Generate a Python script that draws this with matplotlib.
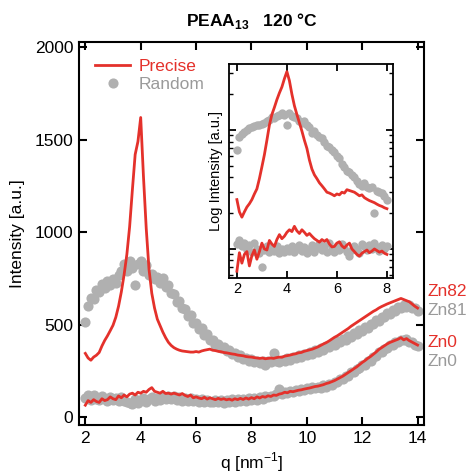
import numpy as np
import matplotlib
matplotlib.use('Agg')
import matplotlib.pyplot as plt

plt.rcParams['font.family'] = ['Liberation Sans', 'DejaVu Sans']
plt.rcParams['mathtext.fontset'] = 'custom'
plt.rcParams['mathtext.rm'] = 'Liberation Sans'
plt.rcParams['mathtext.bf'] = 'Liberation Sans:bold'

# main panel: q from 2 to 14 in steps of 0.1
q = np.round(np.arange(2.0, 14.05, 0.1), 1)

precise_zn82 = [345, 320, 308, 325, 335, 350, 385, 415, 440, 468,
                497, 540, 600, 677, 770, 880, 1030, 1230, 1420, 1490,
                1620, 1300, 1020, 800, 670, 590, 530, 495, 460, 430,
                405, 388, 376, 368, 362, 358, 356, 354, 352, 352,
                355, 352, 358, 362, 365, 368, 362, 360, 356, 354,
                350, 348, 345, 342, 340, 336, 334, 332, 328, 326,
                325, 322, 320, 318, 320, 316, 318, 320, 318, 322,
                325, 324, 330, 333, 336, 340, 343, 348, 350, 356,
                360, 364, 368, 374, 380, 388, 396, 403, 412, 422,
                432, 440, 450, 460, 470, 480, 492, 502, 512, 522,
                532, 542, 552, 562, 572, 580, 590, 598, 605, 612,
                618, 624, 630, 636, 642, 636, 630, 624, 612, 600,
                590]

random_zn81 = [515, 600, 645, 640, 690, 675, 720, 700, 735, 715,
               745, 725, 770, 790, 830, 790, 845, 805, 713, 830,
               845, 790, 825, 770, 775, 745, 760, 725, 750, 705,
               715, 670, 665, 625, 630, 590, 585, 545, 550, 510,
               510, 475, 480, 445, 450, 415, 420, 392, 398, 372,
               380, 358, 362, 342, 346, 328, 334, 316, 322, 306,
               314, 298, 306, 294, 302, 280, 304, 298, 345, 305,
               296, 310, 302, 318, 310, 326, 318, 334, 326, 342,
               334, 350, 344, 362, 354, 372, 366, 384, 378, 398,
               392, 410, 404, 424, 418, 438, 434, 454, 450, 470,
               466, 486, 484, 504, 502, 524, 522, 544, 542, 562,
               558, 578, 574, 594, 590, 606, 598, 606, 590, 592,
               575]

precise_zn0 = [65, 90, 80, 95, 85, 80, 100, 90, 95, 110,
               100, 95, 115, 105, 120, 110, 125, 130, 120, 135,
               130, 140, 135, 150, 160, 140, 135, 130, 140, 128,
               130, 125, 130, 125, 120, 128, 118, 112, 120, 105,
               110, 104, 100, 108, 98, 105, 100, 95, 102, 96,
               100, 94, 98, 92, 100, 95, 102, 96, 104, 98,
               106, 100, 110, 104, 112, 108, 116, 112, 120, 118,
               125, 128, 135, 132, 140, 138, 142, 146, 148, 152,
               155, 158, 162, 166, 168, 172, 176, 182, 186, 192,
               198, 206, 214, 222, 232, 242, 252, 262, 272, 284,
               296, 306, 318, 328, 340, 352, 366, 376, 386, 396,
               404, 410, 416, 422, 430, 418, 425, 414, 406, 398,
               390]

random_zn0 = [105, 118, 95, 120, 100, 92, 115, 98, 86, 108,
              92, 104, 86, 108, 90, 82, 78, 72, 98, 78,
              94, 102, 82, 98, 108, 86, 104, 92, 110, 96,
              114, 96, 112, 94, 108, 90, 104, 88, 102, 86,
              98, 84, 96, 82, 94, 84, 80, 94, 82, 92,
              78, 94, 82, 96, 84, 98, 86, 100, 88, 102,
              92, 104, 94, 108, 96, 112, 108, 116, 114, 128,
              150, 126, 134, 130, 142, 136, 146, 140, 152, 146,
              156, 150, 162, 156, 166, 160, 172, 166, 180, 176,
              190, 188, 204, 204, 222, 224, 242, 244, 262, 264,
              282, 284, 302, 306, 326, 330, 350, 352, 370, 372,
              388, 390, 406, 406, 420, 416, 422, 406, 406, 390,
              385]

# inset: q from 2 to 8, log intensity
qi = np.round(np.arange(2.0, 8.05, 0.1), 1)

inset_precise_hi = [260, 205, 185, 205, 225, 240, 260, 290, 320, 390,
                    490, 620, 820, 1100, 1350, 1550, 1800, 2050, 2300, 2700,
                    3100, 2600, 2000, 1600, 1350, 1150, 980, 820, 700, 560,
                    470, 420, 390, 360, 340, 320, 300, 295, 288, 280,
                    290, 285, 300, 295, 315, 310, 305, 300, 290, 280,
                    285, 270, 262, 255, 250, 245, 238, 232, 228, 222,
                    218]

inset_random_hi = [680, 870, 930, 960, 1000, 1040, 1050, 1080, 1100, 1110,
                   1130, 1150, 1200, 1220, 1280, 1260, 1300, 1340, 1380, 1350,
                   1100, 1380, 1320, 1280, 1250, 1200, 1150, 1200, 1100, 1050,
                   950, 980, 900, 880, 850, 790, 730, 720, 680, 650,
                   610, 580, 520, 490, 450, 440, 420, 400, 370, 350,
                   340, 360, 330, 325, 330, 200, 310, 300, 295, 280,
                   260]

inset_precise_lo = [65, 93, 76, 90, 95, 72, 88, 98, 82, 95,
                    112, 100, 98, 118, 110, 105, 120, 132, 122, 128,
                    138, 145, 140, 155, 142, 135, 145, 138, 130, 135,
                    128, 122, 118, 114, 120, 116, 120, 110, 104, 105,
                    112, 115, 106, 102, 108, 112, 100, 95, 90, 87,
                    92, 95, 98, 93, 96, 100, 97, 94, 96, 92,
                    90]

inset_random_lo = [110, 118, 105, 112, 98, 108, 95, 112, 100, 92,
                   70, 98, 105, 95, 102, 96, 105, 92, 100, 94,
                   102, 96, 105, 95, 100, 108, 96, 104, 92, 100,
                   108, 95, 102, 110, 98, 105, 95, 112, 100, 95,
                   105, 98, 110, 102, 95, 88, 98, 105, 100, 92,
                   110, 105, 98, 108, 100, 112, 104, 96, 108, 100,
                   105]

red = '#e4312b'
gray_dot = '#b0b0b0'
gray_txt = '#9a9a9a'

fig = plt.figure(figsize=(4.70, 4.74), dpi=100)
ax = fig.add_axes([0.168, 0.103, 0.734, 0.808])

h_rand, = ax.plot(q, random_zn81, 'o', color=gray_dot, ms=7.3, mec='none')
ax.plot(q, random_zn0, 'o', color=gray_dot, ms=7.3, mec='none')
h_prec, = ax.plot(q, precise_zn82, '-', color=red, lw=2)
ax.plot(q, precise_zn0, '-', color=red, lw=2)

ax.set_xlim(1.77, 14.23)
ax.set_ylim(-43, 2027)
ax.set_xticks([2, 4, 6, 8, 10, 12, 14])
ax.set_yticks([0, 500, 1000, 1500, 2000])
ax.tick_params(direction='in', top=True, right=True, length=6, width=1.5,
               labelsize=12.5, pad=4)
for s in ax.spines.values():
    s.set_linewidth(1.5)
ax.set_xlabel('q [nm$^{-1}$]', fontsize=12.5, labelpad=3)
ax.set_ylabel('Intensity [a.u.]', fontsize=12.5, labelpad=7)
ax.set_title('PEAA$_{\\mathbf{13}}$   120 °C', fontsize=12.5, fontweight='bold', pad=12)

ax.legend([h_prec, h_rand], ['Precise', 'Random'], loc='upper left',
          frameon=False, fontsize=12.5, handlelength=2.0, handletextpad=0.5,
          borderaxespad=0.55, labelspacing=0.15, labelcolor=[red, gray_txt])

ax.text(14.36, 680, 'Zn82', color=red, fontsize=12.5, va='center', clip_on=False)
ax.text(14.36, 575, 'Zn81', color=gray_txt, fontsize=12.5, va='center', clip_on=False)
ax.text(14.36, 405, 'Zn0', color=red, fontsize=12.5, va='center', clip_on=False)
ax.text(14.36, 302, 'Zn0', color=gray_txt, fontsize=12.5, va='center', clip_on=False)

# inset
axi = fig.add_axes([0.487, 0.4135, 0.349, 0.4515])
axi.plot(qi, inset_random_hi, 'o', color=gray_dot, ms=6, mec='none')
axi.plot(qi, inset_random_lo, 'o', color=gray_dot, ms=6, mec='none')
axi.plot(qi, inset_precise_hi, '-', color=red, lw=2)
axi.plot(qi, inset_precise_lo, '-', color=red, lw=2)
axi.set_yscale('log')
axi.set_xlim(1.68, 8.24)
axi.set_ylim(57, 3590)
axi.set_xticks([2, 4, 6, 8])
axi.tick_params(which='major', direction='in', top=True, right=True, length=5,
                width=1.3, labelsize=10.5, pad=3, labelleft=False)
axi.tick_params(which='minor', direction='in', left=True, right=True, length=3,
                width=1.0, labelleft=False)
axi.tick_params(axis='x', which='minor', bottom=False, top=False)
for s in axi.spines.values():
    s.set_linewidth(1.3)
axi.set_ylabel('Log Intensity [a.u.]', fontsize=10.5, labelpad=4)

fig.savefig('out.png', dpi=100)
